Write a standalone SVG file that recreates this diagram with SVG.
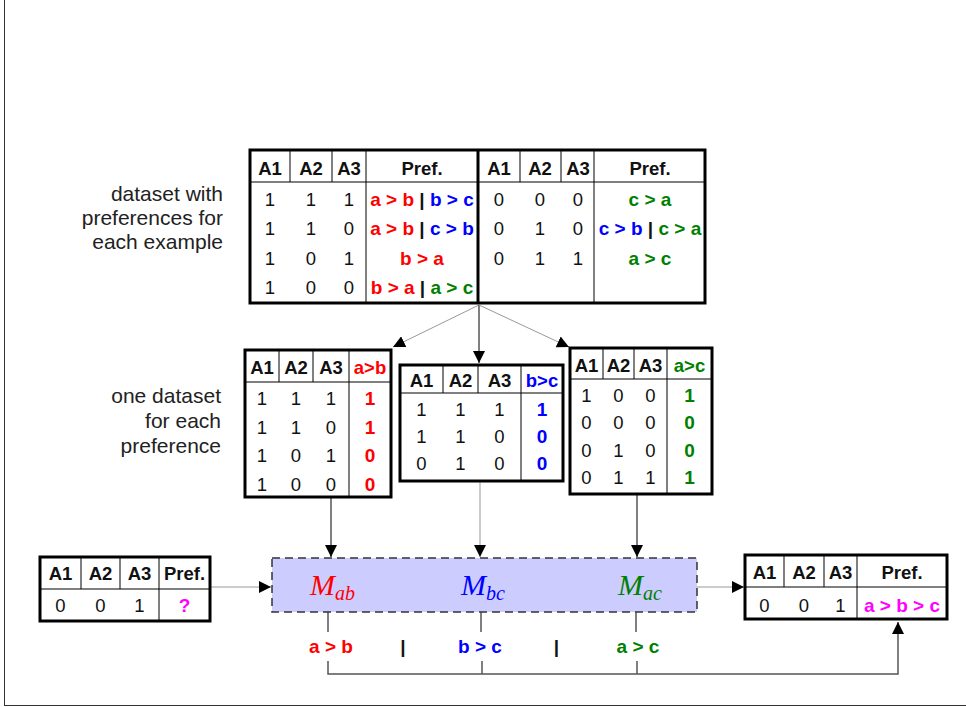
<svg xmlns="http://www.w3.org/2000/svg" width="966" height="707" viewBox="0 0 966 707">
<style>
text{font-family:"Liberation Sans",Arial,sans-serif;font-size:18.5px;text-anchor:middle;fill:#111;white-space:pre}
.h{font-weight:bold;font-size:18.5px}
.p{font-weight:bold;font-size:19px}
.lab{font-size:21px;text-anchor:end;fill:#222}
.R{fill:#ff0000}.B{fill:#0000ff}.G{fill:#008000}.K{fill:#111}.M{fill:#ff00ff}
.bd{fill:#fff;stroke:#000;stroke-width:3}
.tk{stroke:#000;stroke-width:3;fill:none}
.tn{stroke:#000;stroke-width:1;fill:none}
.m{font-family:"Liberation Serif","Times New Roman",serif;font-style:italic;font-size:30px;text-anchor:start}
.gl{stroke:#999;stroke-width:1;fill:none}
.bl{stroke:#000;stroke-width:1;fill:none}
.dl{stroke:#555;stroke-width:1.5;fill:none}
</style>
<defs>
<marker id="ah" markerUnits="userSpaceOnUse" markerWidth="12" markerHeight="12" viewBox="0 0 12 12" refX="12" refY="6" orient="auto">
<path d="M0,0 L12,6 L0,12 Z" fill="#000"/>
</marker>
</defs>
<g id="frame">
<line x1="4.5" y1="0" x2="4.5" y2="705.5" stroke="#333" stroke-width="1"/>
<line x1="4" y1="705.5" x2="966" y2="705.5" stroke="#333" stroke-width="1"/>
</g>
<g id="labels">
<text class="lab" x="223" y="201">dataset with</text>
<text class="lab" x="223" y="225">preferences for</text>
<text class="lab" x="223" y="249">each example</text>
<text class="lab" x="221" y="403">one dataset</text>
<text class="lab" x="221" y="428">for each</text>
<text class="lab" x="221" y="453">preference</text>
</g>
<g id="connectors">
<line class="gl" x1="479" y1="305" x2="393" y2="347" marker-end="url(#ah)"/>
<line class="bl" x1="479" y1="305" x2="479" y2="363" marker-end="url(#ah)"/>
<line class="gl" x1="479" y1="305" x2="569" y2="347" marker-end="url(#ah)"/>
<line class="bl" x1="331" y1="498" x2="331" y2="557" marker-end="url(#ah)"/>
<line class="gl" x1="480" y1="482" x2="480" y2="557" marker-end="url(#ah)"/>
<line class="bl" x1="637" y1="495" x2="637" y2="557" marker-end="url(#ah)"/>
<line class="gl" x1="211" y1="587" x2="271" y2="587" marker-end="url(#ah)"/>
<line class="gl" x1="697" y1="587" x2="744" y2="587" marker-end="url(#ah)"/>
<line class="dl" x1="328" y1="612" x2="328" y2="632"/>
<line class="dl" x1="481" y1="612" x2="481" y2="632"/>
<line class="dl" x1="636" y1="612" x2="636" y2="632"/>
<polyline class="dl" points="328,661 328,674 898,674 898,622" marker-end="url(#ah)"/>
<line class="dl" x1="482" y1="661" x2="482" y2="674"/>
<line class="dl" x1="637" y1="661" x2="637" y2="674"/>
</g>
<g id="table-main">
<rect class="bd" x="250" y="150" width="455" height="153"/>
<line class="tn" x1="250" y1="182" x2="705" y2="182"/>
<line class="tn" x1="290" y1="150" x2="290" y2="182"/>
<line class="tn" x1="332" y1="150" x2="332" y2="182"/>
<line class="tn" x1="366" y1="150" x2="366" y2="303"/>
<line class="tn" x1="520" y1="150" x2="520" y2="182"/>
<line class="tn" x1="561" y1="150" x2="561" y2="182"/>
<line class="tn" x1="594" y1="150" x2="594" y2="303"/>
<line class="tk" x1="478" y1="150" x2="478" y2="303"/>
<text class="h" x="270" y="174.5">A1</text><text class="h" x="311" y="174.5">A2</text><text class="h" x="349" y="174.5">A3</text><text class="h" x="422" y="174.5">Pref.</text>
<text class="h" x="499" y="174.5">A1</text><text class="h" x="540" y="174.5">A2</text><text class="h" x="578" y="174.5">A3</text><text class="h" x="650" y="174.5">Pref.</text>
<text x="270" y="205.5">1</text><text x="311" y="205.5">1</text><text x="349" y="205.5">1</text>
<text class="p" x="422" y="205.5"><tspan class="R">a &gt; b</tspan><tspan class="K"> | </tspan><tspan class="B">b &gt; c</tspan></text>
<text x="270" y="235">1</text><text x="311" y="235">1</text><text x="349" y="235">0</text>
<text class="p" x="422" y="235"><tspan class="R">a &gt; b</tspan><tspan class="K"> | </tspan><tspan class="B">c &gt; b</tspan></text>
<text x="270" y="264.5">1</text><text x="311" y="264.5">0</text><text x="349" y="264.5">1</text>
<text class="p R" x="422" y="264.5">b &gt; a</text>
<text x="270" y="294">1</text><text x="311" y="294">0</text><text x="349" y="294">0</text>
<text class="p" x="422" y="294"><tspan class="R">b &gt; a</tspan><tspan class="K"> | </tspan><tspan class="G">a &gt; c</tspan></text>
<text x="499" y="205.5">0</text><text x="540" y="205.5">0</text><text x="578" y="205.5">0</text>
<text class="p G" x="650" y="205.5">c &gt; a</text>
<text x="499" y="235">0</text><text x="540" y="235">1</text><text x="578" y="235">0</text>
<text class="p" x="650" y="235"><tspan class="B">c &gt; b</tspan><tspan class="K"> | </tspan><tspan class="G">c &gt; a</tspan></text>
<text x="499" y="264.5">0</text><text x="540" y="264.5">1</text><text x="578" y="264.5">1</text>
<text class="p G" x="650" y="264.5">a &gt; c</text>
</g>
<g id="table-ab">
<rect class="bd" x="245" y="350" width="146" height="147"/>
<line class="tn" x1="245" y1="382" x2="391" y2="382"/>
<line class="tn" x1="279" y1="350" x2="279" y2="382"/>
<line class="tn" x1="313" y1="350" x2="313" y2="382"/>
<line class="tn" x1="349" y1="350" x2="349" y2="497"/>
<text class="h" x="262" y="373.5">A1</text><text class="h" x="296" y="373.5">A2</text><text class="h" x="331" y="373.5">A3</text><text class="h R" x="370" y="373.5">a&gt;b</text>
<text x="262" y="404.5">1</text><text x="296" y="404.5">1</text><text x="331" y="404.5">1</text><text class="p R" x="370" y="404.5">1</text>
<text x="262" y="433.5">1</text><text x="296" y="433.5">1</text><text x="331" y="433.5">0</text><text class="p R" x="370" y="433.5">1</text>
<text x="262" y="461.5">1</text><text x="296" y="461.5">0</text><text x="331" y="461.5">1</text><text class="p R" x="370" y="461.5">0</text>
<text x="262" y="490.5">1</text><text x="296" y="490.5">0</text><text x="331" y="490.5">0</text><text class="p R" x="370" y="490.5">0</text>
</g>
<g id="table-bc">
<rect class="bd" x="400" y="365" width="163" height="116"/>
<line class="tn" x1="400" y1="393" x2="563" y2="393"/>
<line class="tn" x1="443" y1="365" x2="443" y2="393"/>
<line class="tn" x1="478" y1="365" x2="478" y2="393"/>
<line class="tn" x1="521" y1="365" x2="521" y2="481"/>
<text class="h" x="421.5" y="386.5">A1</text><text class="h" x="460.5" y="386.5">A2</text><text class="h" x="499.5" y="386.5">A3</text><text class="h B" x="542" y="386.5">b&gt;c</text>
<text x="421.5" y="415.5">1</text><text x="460.5" y="415.5">1</text><text x="499.5" y="415.5">1</text><text class="p B" x="542" y="415.5">1</text>
<text x="421.5" y="442.5">1</text><text x="460.5" y="442.5">1</text><text x="499.5" y="442.5">0</text><text class="p B" x="542" y="442.5">0</text>
<text x="421.5" y="469.5">0</text><text x="460.5" y="469.5">1</text><text x="499.5" y="469.5">0</text><text class="p B" x="542" y="469.5">0</text>
</g>
<g id="table-ac">
<rect class="bd" x="570" y="348" width="142" height="146"/>
<line class="tn" x1="570" y1="379" x2="712" y2="379"/>
<line class="tn" x1="603" y1="348" x2="603" y2="379"/>
<line class="tn" x1="634" y1="348" x2="634" y2="379"/>
<line class="tn" x1="667" y1="348" x2="667" y2="494"/>
<text class="h" x="586.5" y="371.5">A1</text><text class="h" x="618.5" y="371.5">A2</text><text class="h" x="650.5" y="371.5">A3</text><text class="h G" x="689.5" y="371.5">a&gt;c</text>
<text x="586.5" y="401.5">1</text><text x="618.5" y="401.5">0</text><text x="650.5" y="401.5">0</text><text class="p G" x="689.5" y="401.5">1</text>
<text x="586.5" y="428.5">0</text><text x="618.5" y="428.5">0</text><text x="650.5" y="428.5">0</text><text class="p G" x="689.5" y="428.5">0</text>
<text x="586.5" y="456.5">0</text><text x="618.5" y="456.5">1</text><text x="650.5" y="456.5">0</text><text class="p G" x="689.5" y="456.5">0</text>
<text x="586.5" y="483.5">0</text><text x="618.5" y="483.5">1</text><text x="650.5" y="483.5">1</text><text class="p G" x="689.5" y="483.5">1</text>
</g>
<g id="table-query">
<rect class="bd" x="40" y="557" width="170" height="64"/>
<line class="tn" x1="40" y1="589" x2="210" y2="589"/>
<line class="tn" x1="81" y1="557" x2="81" y2="589"/>
<line class="tn" x1="120" y1="557" x2="120" y2="589"/>
<line class="tn" x1="159" y1="557" x2="159" y2="621"/>
<text class="h" x="60.5" y="579.5">A1</text><text class="h" x="100.5" y="579.5">A2</text><text class="h" x="139.5" y="579.5">A3</text><text class="h" x="184.5" y="579.5">Pref.</text>
<text x="60.5" y="611.5">0</text><text x="100.5" y="611.5">0</text><text x="139.5" y="611.5">1</text><text class="p M" x="184.5" y="611.5">?</text>
</g>
<g id="models">
<rect x="272" y="558" width="425" height="54" fill="#ccccff" stroke="#333" stroke-width="1.5" stroke-dasharray="8 5"/>
<text class="m R" x="310" y="595">M<tspan font-size="20" dy="5">ab</tspan></text>
<text class="m B" x="461" y="595">M<tspan font-size="20" dy="5">bc</tspan></text>
<text class="m G" x="618" y="595">M<tspan font-size="20" dy="5">ac</tspan></text>
</g>
<g id="predictions">
<text class="p R" x="331" y="653">a &gt; b</text>
<text class="p K" x="403" y="653">|</text>
<text class="p B" x="480" y="653">b &gt; c</text>
<text class="p K" x="556.5" y="653">|</text>
<text class="p G" x="638" y="653">a &gt; c</text>
</g>
<g id="table-result">
<rect class="bd" x="745" y="555" width="202" height="64"/>
<line class="tn" x1="745" y1="587" x2="947" y2="587"/>
<line class="tn" x1="784" y1="555" x2="784" y2="587"/>
<line class="tn" x1="824" y1="555" x2="824" y2="587"/>
<line class="tn" x1="857" y1="555" x2="857" y2="619"/>
<text class="h" x="764.5" y="578.5">A1</text><text class="h" x="804" y="578.5">A2</text><text class="h" x="840.5" y="578.5">A3</text><text class="h" x="902" y="578.5">Pref.</text>
<text x="764.5" y="611.5">0</text><text x="804" y="611.5">0</text><text x="840.5" y="611.5">1</text><text class="p M" x="902" y="611.5">a &gt; b &gt; c</text>
</g>
</svg>
